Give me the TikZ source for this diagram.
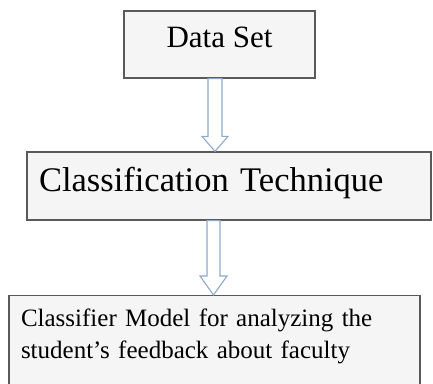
\documentclass[tikz,border=0pt]{standalone}
\usepackage{fontspec}
\setmainfont{Liberation Serif}
\usetikzlibrary{calc}

\definecolor{boxline}{HTML}{5A5A5A}
\definecolor{boxfill}{HTML}{F5F5F5}
\definecolor{arrowline}{HTML}{8EAACB}

\tikzset{
  stage/.style = {draw = boxline, fill = boxfill, line width = 1.3pt, inner ysep = 0pt},
  hollow/.style = {draw = arrowline, fill = white, line width = 1.1pt, line join = miter}
}

\begin{document}
\begin{tikzpicture}[x = 1pt, y = -1pt]
%\draw [help lines, step = 50] (0,0) grid (433,383);
    \useasboundingbox (0,0) rectangle (433,383);
    \node [stage, minimum width = 191pt, minimum height = 67pt, text height = 21pt, text depth = 16pt,
           font = \fontsize{31}{36}\selectfont] (data) at (219.5,44.5) {Data Set};
    \node [stage, text width = 380pt, inner xsep = 12pt, align = left, minimum height = 68pt,
           text height = 24pt, text depth = 14pt, font = \fontsize{34.5}{40}\selectfont] (tech) at (229,186) {Classification Technique};
    \node [stage, anchor = north, text width = 387pt, inner xsep = 12pt, inner ysep = 9pt, align = left,
           text height = 22pt, text depth = 60pt, font = \fontsize{25}{32}\selectfont] (model) at (214.5,295)
           {Classifier Model for analyzing the\\ student’s feedback about faculty};
    % hollow block arrows between the stages
    \draw [hollow] let \p1 = ([xshift = -4.5pt]data.south), \p2 = (tech.north) in
        (\x1-7pt,\y1) -- (\x1+7pt,\y1) -- (\x1+7pt,\y2+15pt) -- (\x1+13pt,\y2+15pt) -- (\x1,\y2)
        -- (\x1-13pt,\y2+15pt) -- (\x1-7pt,\y2+15pt) -- cycle;
    \draw [hollow] let \p1 = ([xshift = -15.5pt]tech.south), \p2 = (model.north) in
        (\x1-6.5pt,\y1) -- (\x1+6.5pt,\y1) -- (\x1+6.5pt,\y2+19pt) -- (\x1+13.5pt,\y2+19pt) -- (\x1,\y2)
        -- (\x1-13.5pt,\y2+19pt) -- (\x1-6.5pt,\y2+19pt) -- cycle;
\end{tikzpicture}
\end{document}
